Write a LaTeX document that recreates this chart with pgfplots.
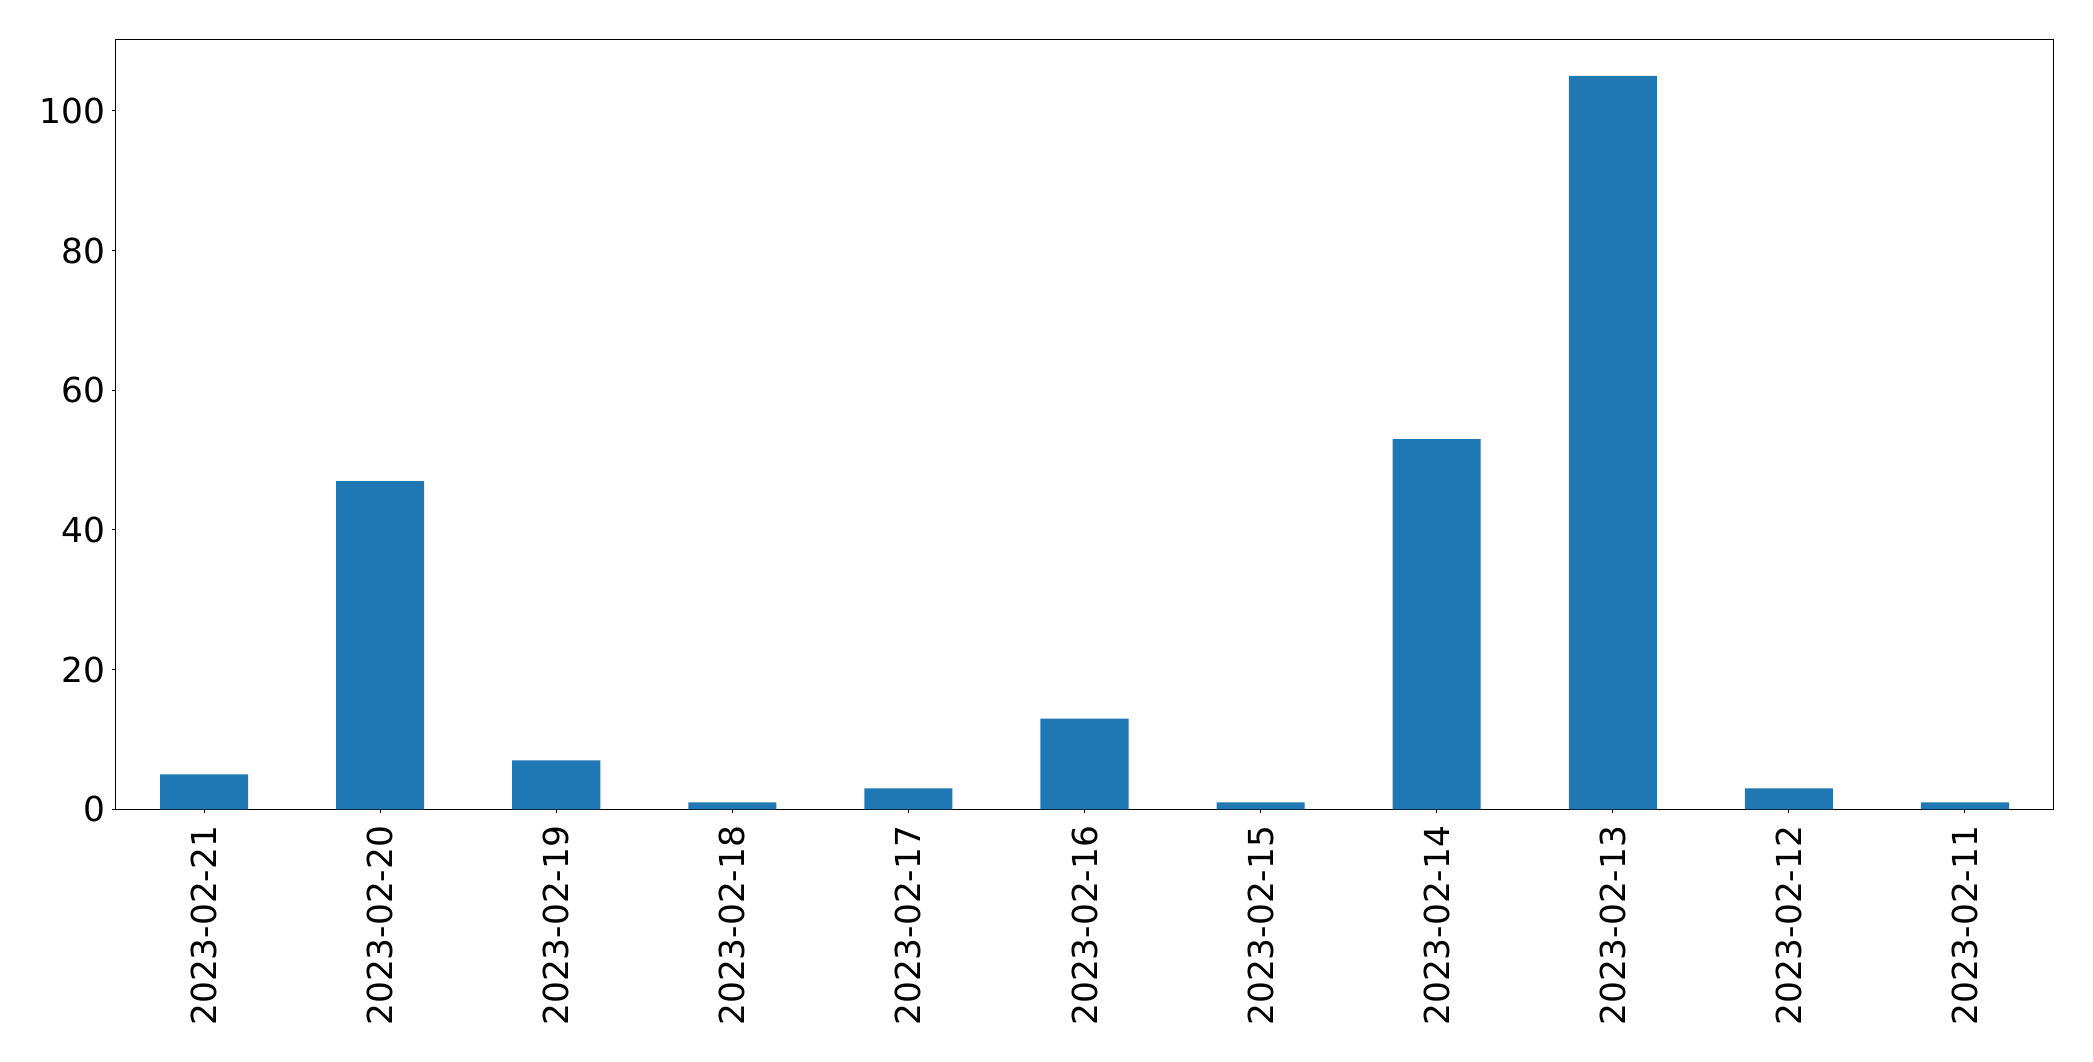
\documentclass[border=0pt]{standalone}
\usepackage{pgfplots}
\pgfplotsset{compat=1.18}
\usepackage{fontspec}
\setmainfont{DejaVu Sans}
\definecolor{mplblue}{HTML}{1F77B4}
\begin{document}
\begin{tikzpicture}
\begin{axis}[
  at={(0,0)}, anchor=south west,
  scale only axis,
  width=968.5pt, height=385pt,
  xmin=-0.5, xmax=10.5, ymin=0, ymax=110.25,
  xtick={0,1,2,3,4,5,6,7,8,9,10},
  xticklabels={2023-02-21,2023-02-20,2023-02-19,2023-02-18,2023-02-17,2023-02-16,2023-02-15,2023-02-14,2023-02-13,2023-02-12,2023-02-11},
  ytick={0,20,40,60,80,100},
  x tick label style={rotate=90, anchor=east, font=\fontsize{17.2}{20}\selectfont},
  y tick label style={font=\fontsize{17.2}{20}\selectfont},
  /pgf/number format/assume math mode=true,
  tick align=outside,
  xtick pos=bottom, ytick pos=left,
  major tick length=2pt,
  tick style={black, line width=0.5pt},
  axis line style={line width=0.5pt},
  xticklabel shift=2.7pt,
  yticklabel shift=-0.3pt,
]
\addplot[ybar, bar width=0.5, fill=mplblue, draw=none] coordinates {
(0,5) (1,47) (2,7) (3,1) (4,3) (5,13) (6,1) (7,53) (8,105) (9,3) (10,1)
};
\end{axis}
\pgfresetboundingbox
\path (-58pt,-125.85pt) rectangle (988.5pt,404.65pt);
\end{tikzpicture}
\end{document}
